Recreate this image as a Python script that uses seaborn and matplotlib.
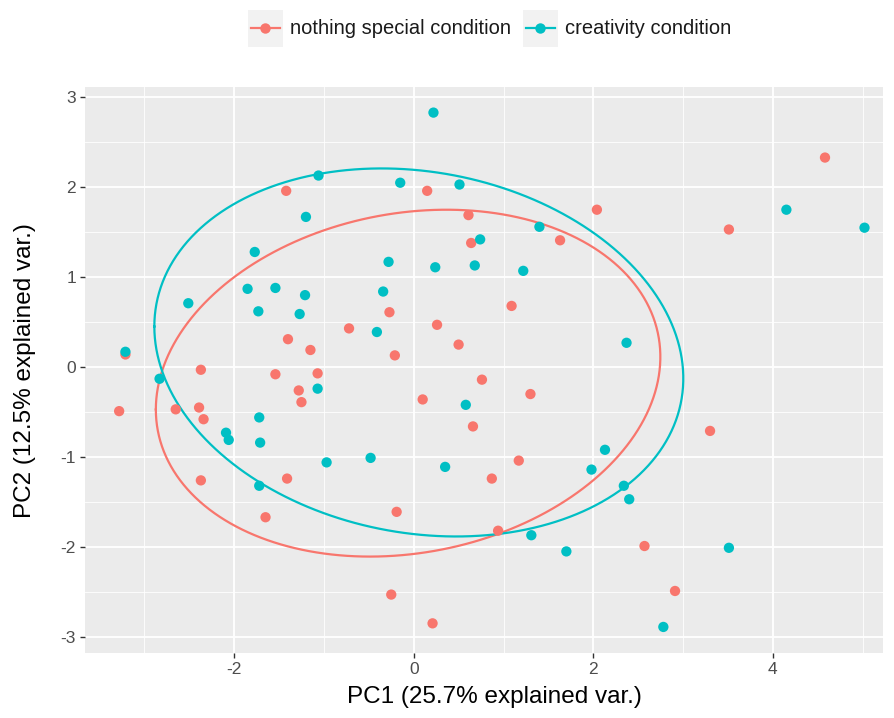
import numpy as np
import pandas as pd
import matplotlib
matplotlib.use("Agg")
import matplotlib.pyplot as plt
from matplotlib.lines import Line2D
from matplotlib.patches import Rectangle
import seaborn as sns

groups = ["nothing special condition", "creativity condition"]
colors = ["#F8766D", "#00BFC4"]

nothing_pc1 = [4.58, 3.51, 2.04, 1.63, 0.15, 0.61, 0.64, 1.09, 0.26, -0.27, -0.72, -0.21,
               0.50, 0.76, 1.30, 0.10, 0.66, 1.17, 0.87, 0.94, -0.19, 2.57, 2.91, 3.30,
               -0.25, 0.21, -1.42, -1.40, -1.15, -1.07, -1.28, -1.25, -1.54, -2.37, -2.39,
               -2.34, -2.37, -2.65, -3.28, -3.21, -1.41, -1.65]
nothing_pc2 = [2.33, 1.53, 1.75, 1.41, 1.96, 1.69, 1.38, 0.68, 0.47, 0.61, 0.43, 0.13,
               0.25, -0.14, -0.30, -0.36, -0.66, -1.04, -1.24, -1.82, -1.61, -1.99, -2.49, -0.71,
               -2.53, -2.85, 1.96, 0.31, 0.19, -0.07, -0.26, -0.39, -0.08, -0.03, -0.45,
               -0.58, -1.26, -0.47, -0.49, 0.14, -1.24, -1.67]

creat_pc1 = [0.22, -0.15, 0.51, -1.06, -1.20, -1.77, -1.85, -1.54, -1.21, -1.73, -1.27, -2.51,
             -3.21, -2.83, -2.09, -2.06, -1.72, -1.71, -1.72, -1.07, -0.97, -0.48, -0.41, -0.34,
             -0.28, 0.24, 0.74, 0.68, 1.22, 1.40, 2.37, 0.58, 0.35, 2.13, 1.98, 2.34,
             2.40, 1.31, 1.70, 2.78, 3.51, 4.15, 5.02]
creat_pc2 = [2.83, 2.05, 2.03, 2.13, 1.67, 1.28, 0.87, 0.88, 0.80, 0.62, 0.59, 0.71,
             0.17, -0.13, -0.73, -0.81, -0.56, -0.84, -1.32, -0.24, -1.06, -1.01, 0.39, 0.84,
             1.17, 1.11, 1.42, 1.13, 1.07, 1.56, 0.27, -0.42, -1.11, -0.92, -1.14, -1.32,
             -1.47, -1.87, -2.05, -2.89, -2.01, 1.75, 1.55]

x_ticks = [-2, 0, 2, 4]
y_ticks = [-3, -2, -1, 0, 1, 2, 3]

df = pd.DataFrame({
    "PC1": nothing_pc1 + creat_pc1,
    "PC2": nothing_pc2 + creat_pc2,
    "group": [groups[0]] * len(nothing_pc1) + [groups[1]] * len(creat_pc1),
})

plt.rcParams["font.family"] = ["Liberation Sans", "DejaVu Sans"]
plt.rcParams["axes.unicode_minus"] = False
W, H = 895, 718
fig = plt.figure(figsize=(W / 100, H / 100), dpi=100)
ax = fig.add_axes([0.095, 0.0905, 0.892, 0.789])
ax.set_facecolor("#EBEBEB")
for s in ax.spines.values():
    s.set_visible(False)

ax.set_xlim(-3.66, 5.23)
ax.set_ylim(-3.18, 3.12)
ax.set_xticks(x_ticks)
ax.set_yticks(y_ticks)
ax.set_xticks([-3, -1, 1, 3, 5], minor=True)
ax.set_yticks([-2.5, -1.5, -0.5, 0.5, 1.5, 2.5], minor=True)
ax.grid(which="major", color="white", linewidth=1.3)
ax.grid(which="minor", color="white", linewidth=0.6)
ax.set_axisbelow(True)
ax.tick_params(which="major", length=3.5, width=1, color="#333333", labelsize=12.5,
               labelcolor="#4D4D4D", pad=3)
ax.tick_params(which="minor", length=0)

# ellipses (68% normal probability) computed from each group's data
ed = np.sqrt(-2 * np.log(1 - 0.68))
theta = np.linspace(-np.pi, np.pi, 200)
circle = np.column_stack([np.cos(theta), np.sin(theta)])
for g, c in zip(groups, colors):
    sub = df[df["group"] == g]
    xy = sub[["PC1", "PC2"]].to_numpy()
    sigma = np.cov(xy.T)
    mu = xy.mean(axis=0)
    L = np.linalg.cholesky(sigma).T
    pts = ed * circle @ L + mu
    ax.plot(pts[:, 0], pts[:, 1], color=c, linewidth=1.6, zorder=2)

sns.scatterplot(data=df, x="PC1", y="PC2", hue="group", hue_order=groups,
                palette=colors, s=55, linewidth=0, ax=ax, legend=False, zorder=3)

ax.set_xlabel("")
ax.set_ylabel("")
fig.text(494 / W, 1 - 697 / H, "PC1 (25.7% explained var.)", fontsize=17.5,
         ha="center", va="center", color="black")
fig.text(25 / W, 1 - 371 / H, "PC2 (12.5% explained var.)", fontsize=17.5,
         ha="center", va="center", rotation=90, color="black")

# legend drawn manually in figure pixels
def fx(px):
    return px / W

def fy(py):
    return 1 - py / H

for (bx, tx), lab, c in zip([(248, 290), (523, 565)], groups, colors):
    fig.patches.append(Rectangle((fx(bx), fy(47)), 35 / W, 37 / H, transform=fig.transFigure,
                                 facecolor="#F2F2F2", edgecolor="none", zorder=0))
    fig.lines.append(Line2D([fx(bx + 3), fx(bx + 32)], [fy(28), fy(28)], transform=fig.transFigure,
                            color=c, linewidth=1.6))
    fig.lines.append(Line2D([fx(bx + 17.5)], [fy(28)], transform=fig.transFigure,
                            color=c, marker="o", markersize=7.5, markeredgewidth=0))
    fig.text(fx(tx), fy(28), lab, fontsize=14.5, ha="left", va="center", color="#1A1A1A")

fig.savefig("out.png", dpi=100, facecolor="white")
